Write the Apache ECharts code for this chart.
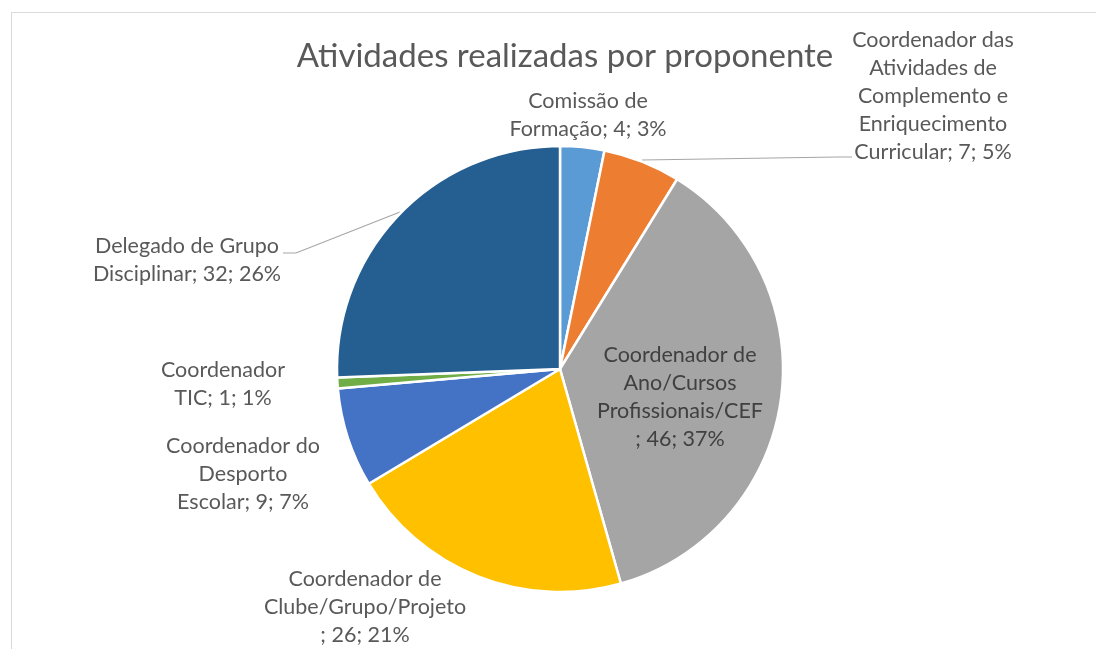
<!DOCTYPE html>
<html>
<head>
<meta charset="utf-8">
<script src="https://cdn.jsdelivr.net/npm/echarts@6/dist/echarts.min.js"></script>
<style>
  html, body { margin: 0; padding: 0; background: #fff; }
  #wrap { position: relative; width: 1096px; height: 649px; overflow: hidden; }
  #frame { position: absolute; left: 11px; top: 12px; width: 1200px; height: 800px; border: 1px solid #d9d9d9; }
  #main { position: absolute; left: 0; top: 0; width: 1096px; height: 649px; }
</style>
</head>
<body>
<div id="wrap">
  <div id="frame"></div>
  <div id="main"></div>
</div>
<script>
// dados
const categories = [
  'Comissão de Formação',
  'Coordenador das Atividades de Complemento e Enriquecimento Curricular',
  'Coordenador de Ano/Cursos Profissionais/CEF',
  'Coordenador de Clube/Grupo/Projeto',
  'Coordenador do Desporto Escolar',
  'Coordenador TIC',
  'Delegado de Grupo Disciplinar'
]
const values = [4, 7, 46, 26, 9, 1, 32]
const percents = [3, 5, 37, 21, 7, 1, 26]
// quebras de linha como no original
const wrappedNames = [
  'Comissão de\nFormação',
  'Coordenador das\nAtividades de\nComplemento e\nEnriquecimento\nCurricular',
  'Coordenador de\nAno/Cursos\nProfissionais/CEF\n',
  'Coordenador de\nClube/Grupo/Projeto\n',
  'Coordenador do\nDesporto\nEscolar',
  'Coordenador\nTIC',
  'Delegado de Grupo\nDisciplinar'
]
const colors = ['#5B9BD5', '#ED7D31', '#A5A5A5', '#FFC000', '#4472C4', '#70AD47', '#255E91']

// posições das etiquetas (centro do bloco de texto)
const labelPos = [
  [588, 115], [933, 96], [680, 397], [365, 607], [243, 474], [223, 384], [187, 260]
]
const leaderLines = {
  1: [[642, 160], [838, 157], [852, 157]],
  6: [[400, 212], [296, 253], [283, 253]]
}

var chartDom = document.getElementById('main')
var myChart = echarts.init(chartDom)
var option = {
  animation: false,
  title: {
    text: 'Atividades realizadas por proponente',
    left: 560,
    top: 35,
    textAlign: 'center',
    textStyle: {
      fontFamily: 'Lato',
      fontSize: 33,
      fontWeight: 'normal',
      color: '#595959'
    }
  },
  series: [
    {
      type: 'pie',
      center: [560, 369],
      radius: 223,
      startAngle: 90,
      clockwise: true,
      avoidLabelOverlap: false,
      itemStyle: {
        borderColor: '#fff',
        borderWidth: 2.5
      },
      label: {
        show: true,
        position: 'outside',
        fontFamily: 'Lato',
        fontSize: 21.5,
        lineHeight: 28,
        color: '#595959',
        align: 'center',
        formatter: (p) => {
          const nm = wrappedNames[p.dataIndex]
          return nm + (nm.endsWith('\n') ? '; ' : '; ') + p.value + '; ' + percents[p.dataIndex] + '%'
        }
      },
      labelLine: {
        show: false,
        lineStyle: { color: '#a6a6a6', width: 1.2 }
      },
      labelLayout: function (params) {
        const i = params.dataIndex
        const res = {
          x: labelPos[i][0],
          y: labelPos[i][1],
          align: 'center',
          verticalAlign: 'middle'
        }
        if (leaderLines[i]) res.labelLinePoints = leaderLines[i]
        return res
      },
      data: values.map((v, i) => ({
        value: v,
        name: categories[i],
        itemStyle: { color: colors[i] },
        labelLine: { show: !!leaderLines[i] },
        label: i === 2 ? { color: '#404040' } : {}
      }))
    }
  ]
}
option && myChart.setOption(option)
</script>
</body>
</html>
